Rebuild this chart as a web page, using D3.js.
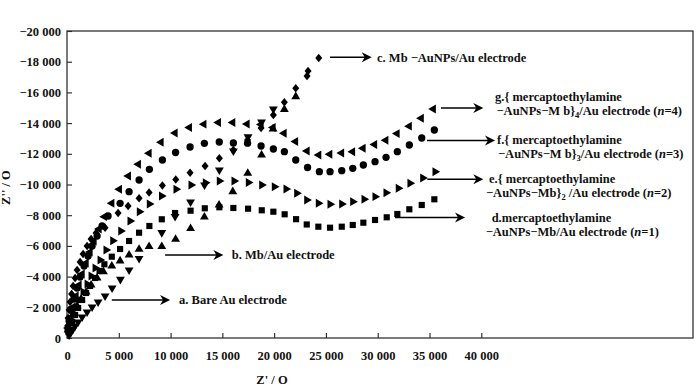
<!DOCTYPE html>
<html>
<head>
<meta charset="utf-8">
<script src="https://cdn.jsdelivr.net/npm/d3@7"></script>
<style>
body { margin: 0; background: #fff; }
text { font-family: "Liberation Serif", "Times New Roman", serif; font-weight: bold; fill: #111; }
</style>
</head>
<body>
<svg id="chart" width="700" height="386"></svg>
<script>
// Nyquist data, [Z', Z''] in ohm (Z'' negative, plotted upward)
var bareAu = [[203,-195],[396,-391],[589,-586],[782,-782],[1071,-1042],[1458,-1368],[1940,-1694],[2423,-2020],
    [3002,-2345],[3678,-2736],[4353,-3258],[5155,-3824],[5995,-4430],[6960,-5180],[9151,-6870],[10435,-7915],
    [11930,-8860],[13280,-9968],[14711,-10945],[16063,-12183],[17480,-13100],[18780,-14070],[19924,-14920]];

var mbAu = [[106,-521],[299,-1042],[589,-1564],[975,-2085],[1361,-2541],[1844,-2997],[2326,-3453],[2906,-3909],
    [3514,-4319],[4325,-4691],[5126,-5017],[5995,-5407],[6960,-5779],[7925,-5961],[9151,-5961],[10483,-6430],
    [11931,-7134],[13263,-7883],[14682,-8665],[16005,-9531],[17453,-10730],[18785,-11922],[19895,-13617],
    [20986,-14887],[22086,-15721]];

var mbAuNPs = [[58,-782],[106,-1303],[203,-1824],[299,-2345],[444,-2867],[589,-3388],[782,-3909],[975,-4430],
    [1265,-4951],[1554,-5473],[1940,-5994],[2326,-6450],[2809,-6841],[3678,-7186],[4933,-8144],[5898,-8600],
    [6960,-9102],[7925,-9479],[9209,-9935],[10502,-10326],[11883,-10769],[13331,-11206],[14711,-11707],
    [16063,-12248],[17434,-12900],[18737,-13682],[19924,-14528],[20986,-15356],[22086,-16268],[23177,-17069],
    [23274,-17395],[24306,-18242]];

var layer1 = [[203,-521],[493,-1042],[782,-1498],[1071,-1955],[1458,-2476],[1844,-2932],[2230,-3388],[2713,-3909],
    [3147,-4365],[3610,-4802],[4325,-5297],[5126,-5798],[5995,-6320],[6960,-6860],[7954,-7297],[9151,-7733],
    [10435,-8144],[11930,-8294],[13302,-8450],[14711,-8515],[16063,-8470],[17482,-8424],[18804,-8320],
    [19924,-8228],[21015,-8059],[22115,-7740],[23148,-7395],[24268,-7251],[25397,-7186],[26527,-7251],
    [27589,-7362],[28612,-7512],[29741,-7688],[30870,-7864],[31894,-8079],[33052,-8385],[34250,-8665],[35466,-9036]];

var layer2 = [[106,-456],[299,-912],[589,-1433],[878,-1955],[1168,-2476],[1554,-2997],[1940,-3518],[2326,-4039],
    [2713,-4561],[3195,-5082],[3774,-5733],[4421,-6339],[5193,-6971],[6091,-7623],[6989,-8228],[7954,-8730],
    [9132,-9251],[10532,-9688],[11979,-9968],[13360,-10111],[14711,-10229],[16130,-10229],[17511,-10131],
    [18804,-9968],[20020,-9857],[21150,-9707],[22183,-9427],[23148,-8991],[24268,-8776],[25397,-8711],
    [26527,-8730],[27589,-8880],[28680,-9036],[29741,-9206],[30803,-9466],[31990,-9753],[33119,-10079],
    [34346,-10424],[35533,-10834]];

var layer3 = [[106,-521],[203,-1108],[396,-1824],[685,-2541],[975,-3258],[1265,-3974],[1651,-4691],[2036,-5342],
    [2423,-5994],[2906,-6645],[3388,-7297],[3967,-7948],[5126,-8776],[5995,-9531],[6960,-10294],[7954,-10991],
    [9209,-11597],[10483,-12085],[11883,-12444],[13263,-12685],[14701,-12769],[16063,-12704],[17434,-12691],
    [18737,-12509],[19924,-12313],[20986,-12137],[22086,-11597],[23226,-11108],[24365,-10834],[25397,-10834],
    [26527,-10900],[27589,-11056],[28612,-11271],[29741,-11486],[30803,-11773],[31894,-12137],[33052,-12574],
    [34250,-13030],[35466,-13552]];

var layer4 = [[106,-652],[299,-1303],[589,-2020],[878,-2736],[1168,-3453],[1458,-4170],[1844,-4886],[2230,-5603],
    [2616,-6320],[3099,-7102],[3610,-7903],[4325,-8776],[5058,-9688],[5927,-10554],[6892,-11317],[7925,-12033],
    [9084,-12750],[10435,-13356],[11815,-13714],[13215,-13929],[14615,-14040],[16005,-14040],[17385,-13942],
    [18737,-13910],[19895,-13714],[20957,-13336],[22067,-12802],[23177,-12183],[24306,-11922],[25368,-11968],
    [26507,-12053],[27569,-12137],[28583,-12359],[29693,-12607],[30784,-12880],[31865,-13317],[33042,-13799],
    [34201,-14314],[35369,-14919]];

var xTicks = d3.range(0, 40001, 5000);
var yTicks = d3.range(0, -20001, -2000);

var margin = { top: 31, right: 7, bottom: 48, left: 67 },
    width = 700 - margin.left - margin.right,
    height = 386 - margin.top - margin.bottom;

var svg = d3.select("#chart")
    .append("g")
    .attr("transform", "translate(" + margin.left + "," + margin.top + ")");

var x = d3.scaleLinear().domain([0, 60440]).range([0, width]);
var y = d3.scaleLinear().domain([0, -20000]).range([height, 0]);

var loc = d3.formatLocale({ decimal: ".", thousands: " ", grouping: [3], currency: ["", ""], minus: "\u2212" });
var fmt = loc.format(",");

// axes, ticks point inward
var xAxis = svg.append("g")
    .attr("transform", "translate(0," + height + ")")
    .call(d3.axisBottom(x).tickValues(xTicks).tickSizeInner(-5).tickSizeOuter(0).tickPadding(13).tickFormat(fmt));
var yAxis = svg.append("g")
    .call(d3.axisLeft(y).tickValues(yTicks).tickSizeInner(-5).tickSizeOuter(0).tickPadding(6).tickFormat(fmt));
[xAxis, yAxis].forEach(function (g) {
    g.select(".domain").remove();
    g.selectAll("line").attr("stroke", "#222").attr("stroke-width", 1.1);
    g.selectAll("text").attr("font-size", 12.5).attr("fill", "#111")
        .attr("font-family", "Liberation Serif, Times New Roman, serif").attr("font-weight", "bold");
});

// frame
svg.append("rect")
    .attr("x", 0).attr("y", 0).attr("width", width).attr("height", height)
    .attr("fill", "none").attr("stroke", "#333").attr("stroke-width", 1.3);

// axis titles
svg.append("text")
    .attr("x", 205).attr("y", height + 46)
    .attr("font-size", 12.5).attr("text-anchor", "middle")
    .text("Z' / O");
svg.append("text")
    .attr("transform", "translate(-57," + (y(-9800)) + ") rotate(-90)")
    .attr("font-size", 12.5).attr("text-anchor", "middle")
    .text("Z'' / O");

// markers
var diamond = {
    draw: function (ctx, size) {
        var h = Math.sqrt(size * 2 / 0.82) / 2, w = h * 0.82;
        ctx.moveTo(0, -h); ctx.lineTo(w, 0); ctx.lineTo(0, h); ctx.lineTo(-w, 0); ctx.closePath();
    }
};
var series = [
    { data: bareAu, type: d3.symbolTriangle, size: 34, rot: 180 },
    { data: mbAu, type: d3.symbolTriangle, size: 34, rot: 0 },
    { data: layer1, type: d3.symbolSquare, size: 38, rot: 0 },
    { data: layer2, type: d3.symbolTriangle, size: 34, rot: 90 },
    { data: layer3, type: d3.symbolCircle, size: 42, rot: 0 },
    { data: layer4, type: d3.symbolTriangle, size: 34, rot: -90 },
    { data: mbAuNPs, type: diamond, size: 30, rot: 0 }
];
series.forEach(function (s) {
    var sym = d3.symbol().type(s.type).size(s.size);
    svg.append("g").selectAll("path")
        .data(s.data)
        .enter().append("path")
        .attr("d", sym)
        .attr("fill", "#000")
        .attr("transform", function (d) {
            return "translate(" + x(d[0]) + "," + y(d[1]) + ") rotate(" + s.rot + ")";
        });
});

// annotation arrows and labels (positions in data units)
var notes = [
    { x1: 25397, x2: 29422, y: -18288, tx: 29934, ty: -18010, lines: [[["c. Mb \u2212AuNPs/Au electrode"]]] },
    { x1: 36105, x2: 40196, y: -14985, tx: 41324, ty: -15450, dx2: 1.5, lines: [
        [["g.{ mercaptoethylamine"]],
        [["\u2212AuNPs\u2212M b}"], ["4", "sub"], ["/Au electrode ("], ["n", "it"], ["=4)"]]] },
    { x1: 34760, x2: 41324, y: -12867, tx: 41517, ty: -12640, dx2: 1, lines: [
        [["f.{ mercaptoethylamine"]],
        [["\u2212AuNPs\u2212M b}"], ["3", "sub"], ["/Au electrode ("], ["n", "it"], ["=3)"]]] },
    { x1: 34789, x2: 40196, y: -10339, tx: 40745, ty: -10080, dx2: -3, lines: [
        [["e.{ mercaptoethylamine"]],
        [["\u2212AuNPs\u2212Mb}"], ["2", "sub"], [" /Au electrode ("], ["n", "it"], ["=2)"]]] },
    { x1: 31672, x2: 38429, y: -7851, tx: 41000, ty: -7560, dx2: -6, lines: [
        [["d.mercaptoethylamine"]],
        [["\u2212AuNPs\u2212Mb/Au electrode ("], ["n", "it"], ["=1)"]]] },
    { x1: 9470, x2: 15097, y: -5407, tx: 15910, ty: -5150, lines: [[["b.  Mb/Au electrode"]]] },
    { x1: 4325, x2: 9952, y: -2476, tx: 10820, ty: -2220, lines: [[["a.  Bare Au electrode"]]] }
];

notes.forEach(function (n) {
    var xa = x(n.x1), xb = x(n.x2), ya = y(n.y);
    svg.append("line")
        .attr("x1", xa).attr("x2", xb - 4).attr("y1", ya).attr("y2", ya)
        .attr("stroke", "#000").attr("stroke-width", 1.6);
    svg.append("path")
        .attr("d", "M" + xb + "," + ya + "l-10,-5l3,5l-3,5z")
        .attr("fill", "#000");
    n.lines.forEach(function (parts, i) {
        var t = svg.append("text")
            .attr("x", x(n.tx) + (i > 0 ? (n.dx2 || 0) : 0))
            .attr("y", y(n.ty) + i * 14)
            .attr("font-size", 12.5);
        var shift = 0;
        parts.forEach(function (p) {
            var sp = t.append("tspan").text(p[0]);
            if (p[1] === "sub") {
                sp.attr("font-size", 8.5).attr("dy", 3);
                shift = -3;
                return;
            }
            if (shift) { sp.attr("dy", shift); shift = 0; }
            if (p[1] === "it") sp.attr("font-style", "italic");
        });
    });
});
</script>
</body>
</html>
